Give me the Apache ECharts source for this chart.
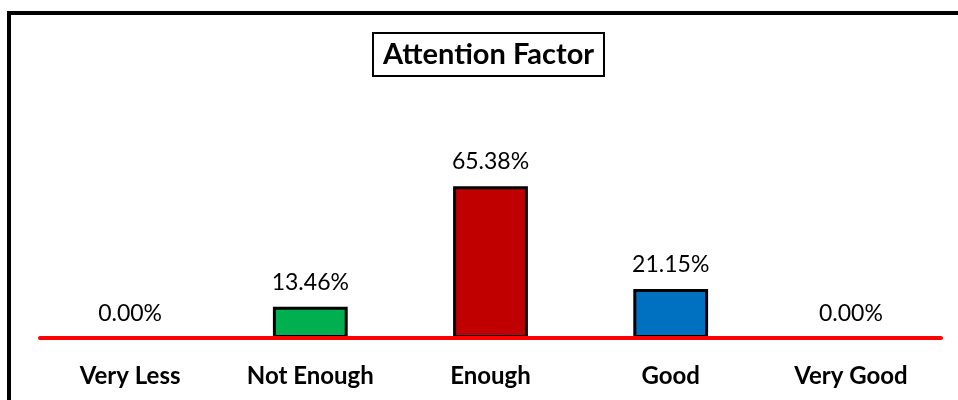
<!DOCTYPE html>
<html>
<head>
<meta charset="utf-8">
<script src="https://cdn.jsdelivr.net/npm/echarts@6/dist/echarts.min.js"></script>
<style>
  html, body { margin: 0; padding: 0; background: #fff; }
  #chart { width: 958px; height: 400px; }
</style>
</head>
<body>
<div id="chart"></div>
<script>
// Survey responses for the attention factor (percent of respondents)
const categories = ['Very Less', 'Not Enough', 'Enough', 'Good', 'Very Good'];
const percentages = [0.00, 13.46, 65.38, 21.15, 0.00];
const barColors = ['#7F7F7F', '#00B050', '#C00000', '#0070C0', '#7F7F7F'];

const chart = echarts.init(document.getElementById('chart'));

chart.setOption({
  backgroundColor: '#fff',
  animation: false,
  title: {
    text: 'Attention Factor',
    left: 373,
    top: 33,
    padding: [6, 10, 5, 10],
    borderColor: '#000',
    borderWidth: 2,
    textStyle: {
      fontFamily: 'Lato',
      fontWeight: 'bold',
      fontSize: 29,
      lineHeight: 32,
      color: '#000'
    }
  },
  graphic: [{
    type: 'rect',
    shape: { x: 9, y: 13, width: 970, height: 420 },
    style: { fill: 'none', stroke: '#000', lineWidth: 4 },
    silent: true
  }],
  grid: { left: 40, right: 17, top: 106, bottom: 62, containLabel: false },
  xAxis: {
    type: 'category',
    data: categories,
    z: 10,
    axisLine: { show: true, lineStyle: { color: '#FF0000', width: 4 } },
    axisTick: { show: false },
    axisLabel: {
      margin: 26,
      fontFamily: 'Lato',
      fontWeight: 'bold',
      fontSize: 24,
      color: '#000'
    }
  },
  yAxis: {
    type: 'value',
    min: 0,
    max: 100,
    show: false,
    splitLine: { show: false }
  },
  series: [{
    type: 'bar',
    barWidth: '41.5%',
    data: percentages.map((v, i) => ({
      value: v,
      itemStyle: { color: barColors[i], borderWidth: v > 0 ? 3 : 0 }
    })),
    itemStyle: { borderColor: '#000' },
    label: {
      show: true,
      position: 'top',
      distance: 13,
      formatter: p => p.value.toFixed(2) + '%',
      fontFamily: 'Lato',
      fontSize: 23,
      color: '#000'
    }
  }]
});
</script>
</body>
</html>
